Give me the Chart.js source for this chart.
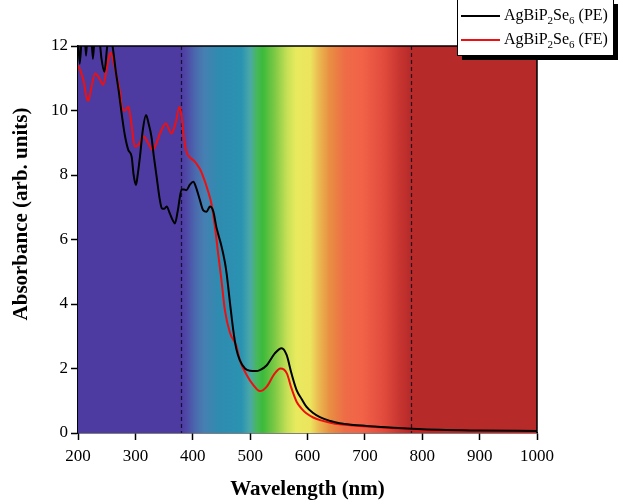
<!DOCTYPE html>
<html>
<head>
<meta charset="utf-8">
<script src="https://cdn.jsdelivr.net/npm/chart.js@4.4.0/dist/chart.umd.min.js"></script>
<style>
  html, body { margin: 0; padding: 0; background: #ffffff; }
  #wrap { width: 618px; height: 503px; }
</style>
</head>
<body>
<div id="wrap"><canvas id="c" width="618" height="503"></canvas></div>
<script>
// ---- Data ----
const seriesLabels = ["AgBiP₂Se₆ (PE)", "AgBiP₂Se₆ (FE)"];
const xAxisTitle = "Wavelength (nm)";
const yAxisTitle = "Absorbance (arb. units)";

const peWavelength = [200,203,207,211,214,217,222,226,230,236,241,246,251,256,261,266,271,276,282,287.6,293.5,297,301,304,308,313,318.5,323,328,332,337,342,346,350,354.5,360,365,369,374,380.6,385,389,395,401,406,412.5,418,424,430,436,441,444,450,456,459,465,470.6,476,482,491,500,510,517,529,543,555,563.6,572,581,590,598,610,621.6,640,656,680,703,750,800,900,1000];
const peAbsorbance = [12.3,11.45,12.4,12.6,11.7,12.5,12.6,11.6,12.5,12.4,11.6,11.2,12.0,12.4,11.9,11.2,10.6,9.91,9.2,8.78,8.57,8.0,7.69,8.0,8.57,9.4,9.86,9.6,9.19,8.6,7.95,7.3,6.97,6.95,7.02,6.81,6.6,6.5,6.9,7.55,7.55,7.53,7.7,7.79,7.6,7.22,6.91,6.86,7.02,6.86,6.4,6.19,5.8,5.3,4.95,4.02,3.19,2.6,2.26,2.0,1.93,1.92,1.95,2.1,2.47,2.63,2.42,1.85,1.33,1.05,0.82,0.62,0.49,0.37,0.30,0.25,0.22,0.16,0.12,0.08,0.06];

const feWavelength = [200,205,210,215,218,222,230,237,244,251,257,262,268,273,277,282,288,293,299,306,314,322,330,337,343,353,363,370,377,380,385,389,395,404,412,416,427,433,439,444,450,456,465,476,482,494,505,517,529,543,553,564,572,581,590,598,610,622,640,656,680,703,750,800,900,1000];
const feAbsorbance = [11.4,11.2,10.9,10.4,10.3,10.6,11.15,11.0,10.8,11.4,11.8,11.5,11.0,10.6,10.05,10.0,10.12,9.6,8.88,8.95,9.2,9.0,8.78,9.0,9.29,9.6,9.29,9.6,10.12,9.9,9.1,8.72,8.55,8.41,8.2,8.05,7.48,7.07,6.35,5.6,4.74,3.81,3.1,2.7,2.26,1.8,1.5,1.3,1.44,1.85,2.0,1.85,1.39,0.97,0.75,0.61,0.48,0.40,0.32,0.27,0.23,0.20,0.15,0.10,0.06,0.04];

const markerWavelengths = [380, 780];
const xTickStep = 100;
const yTickStep = 2;

// ---- Styles ----
const serif = "'Liberation Serif', 'Times New Roman', serif";
const spectrumStops = [
  [200,'#4e3ba2'],[380,'#4e3ba2'],[390,'#4f4aa6'],[405,'#4a6aae'],[420,'#4680b2'],
  [445,'#2f8bb0'],[485,'#2a93b2'],[500,'#4aa8a8'],[512,'#47b85a'],[522,'#3cba3a'],
  [542,'#7ac844'],[565,'#c8e056'],[580,'#e8ea5e'],[605,'#ece45e'],[620,'#ebb850'],
  [638,'#e89042'],[665,'#ee6c46'],[695,'#f26248'],[735,'#e04a3c'],[762,'#c63430'],
  [780,'#b62a2a'],[1000,'#b62a2a']
];

function toPoints(xs, ys) { return xs.map((x, i) => ({x: x, y: ys[i]})); }

const bgPlugin = {
  id: 'spectrumBg',
  beforeDatasetsDraw(chart) {
    const {ctx, chartArea: a, scales: {x}} = chart;
    const x0 = x.getPixelForValue(x.min), x1 = x.getPixelForValue(x.max);
    const g = ctx.createLinearGradient(x0, 0, x1, 0);
    spectrumStops.forEach(([nm, col]) => g.addColorStop((nm - x.min) / (x.max - x.min), col));
    ctx.save();
    ctx.fillStyle = g;
    ctx.fillRect(a.left, a.top, a.right - a.left, a.bottom - a.top);
    ctx.strokeStyle = 'rgba(10,10,30,0.85)';
    ctx.lineWidth = 1.2;
    ctx.setLineDash([4, 3]);
    markerWavelengths.forEach(nm => {
      const px = Math.round(x.getPixelForValue(nm)) + 0.5;
      ctx.beginPath();
      ctx.moveTo(px, a.top);
      ctx.lineTo(px, a.bottom);
      ctx.stroke();
    });
    ctx.restore();
  },
  afterDraw(chart) {
    const {ctx, chartArea: a} = chart;
    ctx.save();
    ctx.strokeStyle = '#000';
    ctx.lineWidth = 1.5;
    ctx.beginPath();
    ctx.moveTo(a.left, a.top);
    ctx.lineTo(a.right, a.top);
    ctx.lineTo(a.right, a.bottom);
    ctx.stroke();

    // y-axis title
    ctx.save();
    ctx.translate(22, 214);
    ctx.rotate(-Math.PI / 2);
    ctx.fillStyle = '#000';
    ctx.font = 'bold 21px ' + serif;
    ctx.textAlign = 'center';
    ctx.textBaseline = 'middle';
    ctx.fillText(yAxisTitle, 0, 0);
    ctx.restore();

    // legend box with shadow
    const bx = 457, by = -1, bw = 156, bh = 56;
    ctx.fillStyle = '#000';
    ctx.fillRect(bx + 5, by + 5, bw, bh);
    ctx.fillStyle = '#fff';
    ctx.fillRect(bx, by, bw, bh);
    ctx.strokeStyle = '#000';
    ctx.lineWidth = 1;
    ctx.strokeRect(bx + 0.5, by + 0.5, bw, bh);
    const rows = [16, 40];
    chart.data.datasets.forEach((ds, i) => {
      const yy = rows[i];
      ctx.strokeStyle = ds.borderColor;
      ctx.lineWidth = 2;
      ctx.beginPath();
      ctx.moveTo(461, yy);
      ctx.lineTo(500, yy);
      ctx.stroke();
      let tx = 504;
      ctx.fillStyle = '#000';
      ctx.textBaseline = 'middle';
      ctx.textAlign = 'left';
      const subs = '₀₁₂₃₄₅₆₇₈₉';
      for (const ch of ds.label) {
        const k = subs.indexOf(ch);
        if (k >= 0) {
          ctx.font = '11px ' + serif;
          ctx.fillText(String(k), tx, yy + 5);
          tx += ctx.measureText(String(k)).width;
        } else {
          ctx.font = '16px ' + serif;
          ctx.fillText(ch, tx, yy);
          tx += ctx.measureText(ch).width;
        }
      }
    });
    ctx.restore();
  }
};

const axisCommon = {
  grid: { drawOnChartArea: false, drawTicks: true, tickLength: 7, tickColor: '#000', tickWidth: 1.5 },
  border: { color: '#000', width: 1.5 },
};

new Chart(document.getElementById('c'), {
  type: 'line',
  data: {
    datasets: [
      { label: seriesLabels[0], data: toPoints(peWavelength, peAbsorbance), borderColor: '#000000', borderWidth: 2, pointRadius: 0, cubicInterpolationMode: 'monotone', fill: false },
      { label: seriesLabels[1], data: toPoints(feWavelength, feAbsorbance), borderColor: '#ee1010', borderWidth: 2, pointRadius: 0, cubicInterpolationMode: 'monotone', fill: false }
    ]
  },
  options: {
    responsive: false,
    animation: false,
    layout: { padding: { top: 46, right: 81, left: 0, bottom: 0 } },
    plugins: { legend: { display: false }, tooltip: { enabled: false } },
    scales: {
      x: Object.assign({}, axisCommon, {
        type: 'linear', min: 200, max: 1000,
        ticks: { stepSize: xTickStep, color: '#000', font: { family: serif, size: 17 }, padding: 6, maxRotation: 0, callback: v => String(v) },
        title: { display: true, text: xAxisTitle, color: '#000', font: { family: serif, size: 21, weight: 'bold' }, padding: { top: 4, bottom: 1 } },
        afterFit(s) { s.height = 70; }
      }),
      y: Object.assign({}, axisCommon, {
        type: 'linear', min: 0, max: 12,
        ticks: { stepSize: yTickStep, color: '#000', font: { family: serif, size: 17 }, padding: 3, callback: v => String(v) },
        title: { display: false, text: yAxisTitle },
        afterFit(s) { s.width = 78; }
      })
    }
  },
  plugins: [bgPlugin]
});
</script>
</body>
</html>
